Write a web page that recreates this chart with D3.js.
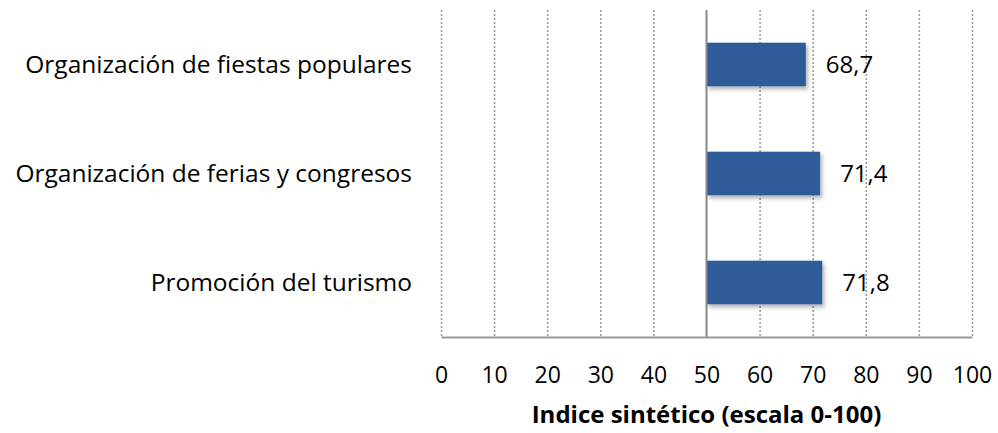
<!DOCTYPE html>
<html>
<head>
<meta charset="utf-8">
<script src="https://cdn.jsdelivr.net/npm/d3@7"></script>
<style>
  html, body { margin: 0; padding: 0; background: #fff; }
  svg { display: block; font-family: "Open Sans", sans-serif; }
</style>
</head>
<body>
<div id="chart"></div>
<script>
const categories = ['Organización de fiestas populares', 'Organización de ferias y congresos', 'Promoción del turismo'];
const values = [68.7, 71.4, 71.8];
const xTicks = [0, 10, 20, 30, 40, 50, 60, 70, 80, 90, 100];
const baseline = 50;
const axisTitle = 'Indice sintético (escala 0-100)';

const width = 998;
const height = 433;
const margin = { top: 10, right: 26, bottom: 96, left: 441 };
const innerW = width - margin.left - margin.right;
const innerH = height - margin.top - margin.bottom;

const svg = d3.select('#chart')
  .append('svg')
  .attr('width', width)
  .attr('height', height);

const defs = svg.append('defs');
const shadow = defs.append('filter').attr('id', 'shadow')
  .attr('x', '-10%').attr('y', '-20%').attr('width', '130%').attr('height', '160%');
shadow.append('feDropShadow')
  .attr('dx', 2).attr('dy', 3).attr('stdDeviation', 2)
  .attr('flood-color', '#000').attr('flood-opacity', 0.3);

const g = svg.append('g').attr('transform', `translate(${margin.left},${margin.top})`);

const x = d3.scaleLinear().domain([0, 100]).range([0, innerW]);
const y = d3.scaleBand()
  .domain(categories)
  .range([0, innerH])
  .paddingInner(0.6)
  .paddingOuter(0.3);

// Gridlines
g.append('g')
  .selectAll('line')
  .data(xTicks.filter(d => d !== baseline))
  .join('line')
  .attr('x1', d => x(d) + 0.5)
  .attr('x2', d => x(d) + 0.5)
  .attr('y1', 0)
  .attr('y2', innerH)
  .attr('stroke', '#999')
  .attr('stroke-width', 1.5)
  .attr('stroke-dasharray', '2,2');

// Bars
const data = categories.map((c, i) => ({ cat: c, value: values[i] }));
g.selectAll('rect.bar')
  .data(data)
  .join('rect')
  .attr('class', 'bar')
  .attr('x', x(baseline))
  .attr('y', d => y(d.cat))
  .attr('width', d => x(d.value) - x(baseline))
  .attr('height', y.bandwidth())
  .attr('fill', '#2E5C98')
  .attr('filter', 'url(#shadow)');

// Baseline (category axis at 50)
g.append('line')
  .attr('x1', x(baseline)).attr('x2', x(baseline))
  .attr('y1', 0).attr('y2', innerH)
  .attr('stroke', '#888').attr('stroke-width', 2);

// Bottom axis
g.append('g')
  .attr('transform', `translate(0,${innerH})`)
  .call(d3.axisBottom(x).tickValues(xTicks).tickSize(0).tickPadding(30).tickFormat(d3.format('d')))
  .call(a => a.select('.domain').attr('stroke', '#999').attr('stroke-width', 2))
  .call(a => a.selectAll('.tick text').attr('fill', '#000').style('font-size', '23px').style('font-family', '"Open Sans", sans-serif'));

// Category labels
g.append('g')
  .selectAll('text')
  .data(categories)
  .join('text')
  .attr('x', -29)
  .attr('y', d => y(d) + y.bandwidth() / 2)
  .attr('dy', '0.35em')
  .attr('text-anchor', 'end')
  .style('font-size', '24.5px')
  .text(d => d);

// Value labels
g.append('g')
  .selectAll('text')
  .data(data)
  .join('text')
  .attr('x', d => x(d.value) + 20)
  .attr('y', d => y(d.cat) + y.bandwidth() / 2)
  .attr('dy', '0.35em')
  .style('font-size', '24px')
  .text(d => d3.format('.1f')(d.value).replace('.', ','));

// Axis title
svg.append('text')
  .attr('x', margin.left + x(baseline))
  .attr('y', 423)
  .attr('text-anchor', 'middle')
  .style('font-size', '24px')
  .style('font-weight', 'bold')
  .text(axisTitle);
</script>
</body>
</html>
